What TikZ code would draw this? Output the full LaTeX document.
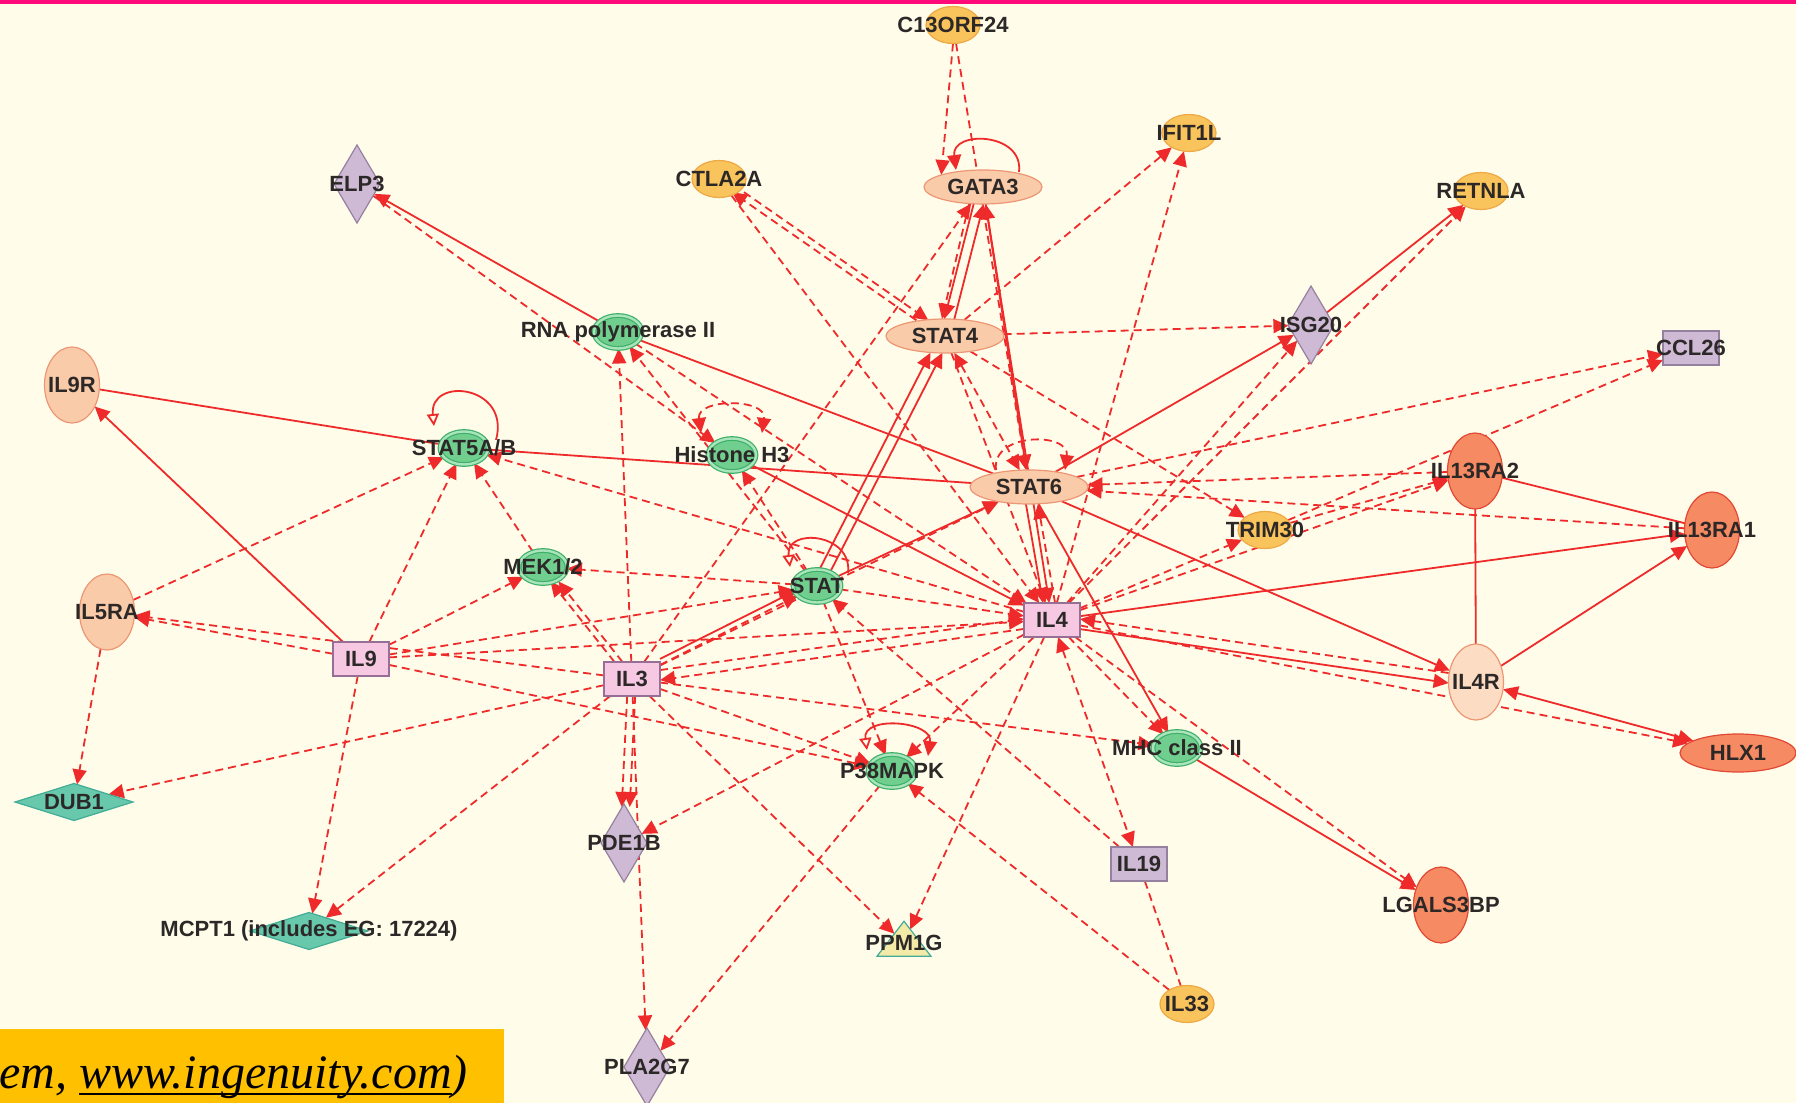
\documentclass[tikz,border=0pt]{standalone}
\usepackage{fontspec}
\setmainfont{Liberation Serif}
\setsansfont{Liberation Sans}
\usetikzlibrary{arrows.meta, shapes.geometric, backgrounds}

\definecolor{cream}{RGB}{255,253,234}
\definecolor{magbar}{RGB}{255,10,120}
\definecolor{banner}{RGB}{255,192,0}
\definecolor{lnk}{RGB}{238,42,42}
\definecolor{txtgrey}{RGB}{45,40,40}
\definecolor{pchfill}{RGB}{250,203,168}
\definecolor{pchline}{RGB}{236,150,118}
\definecolor{ltpfill}{RGB}{252,220,194}
\definecolor{ylwfill}{RGB}{250,196,92}
\definecolor{ylwline}{RGB}{238,168,70}
\definecolor{orgfill}{RGB}{246,138,98}
\definecolor{orgline}{RGB}{226,72,52}
\definecolor{grnfill}{RGB}{112,206,142}
\definecolor{grnline}{RGB}{62,176,104}
\definecolor{grnring}{RGB}{170,228,188}
\definecolor{purpfill}{RGB}{206,186,212}
\definecolor{purpline}{RGB}{150,128,160}
\definecolor{pinkfill}{RGB}{246,200,226}
\definecolor{pinkline}{RGB}{150,110,150}
\definecolor{tealfill}{RGB}{104,200,172}
\definecolor{tealline}{RGB}{66,172,150}
\definecolor{trifill}{RGB}{244,234,168}

\newsavebox\urlbox
\newcommand\urlul[1]{\sbox\urlbox{#1}\rlap{\rule[-0.14em]{\wd\urlbox}{0.045em}}\usebox\urlbox}

\begin{document}
\begin{tikzpicture}[x=0.5pt, y=-0.5pt,
    >={Triangle[length=7.5pt, width=7pt]},
    every label/.style={font=\sffamily\bfseries\fontsize{11}{13}\selectfont, text=txtgrey, inner sep=0pt},
    gene/.style={line width=0.6pt, inner sep=0pt, outer sep=0pt},
    pch/.style={gene, ellipse, draw=pchline, fill=pchfill},
    ylw/.style={gene, ellipse, draw=ylwline, fill=ylwfill, minimum width=27pt, minimum height=18.5pt},
    org/.style={gene, ellipse, draw=orgline, fill=orgfill},
    grn/.style={gene, ellipse, draw=grnline, double=grnring, double distance=1.2pt, fill=grnfill, minimum width=24pt, minimum height=16.5pt},
    dia/.style={gene, diamond, draw=purpline, fill=purpfill, minimum width=23pt, minimum height=39pt},
    flat/.style={gene, diamond, draw=tealline, fill=tealfill, minimum width=59pt, minimum height=18.5pt},
    box/.style={gene, rectangle, draw=#1line, fill=#1fill, minimum width=28pt, minimum height=17pt},
    tall/.style={minimum width=27.5pt, minimum height=38pt},
    wide/.style={minimum width=59pt, minimum height=17pt},
    link/.style={draw=lnk, line width=0.9pt},
    dsh/.style={link, dash pattern=on 4pt off 2.5pt, ->},
    sld/.style={link, ->},
]
\useasboundingbox (0,0) rectangle (1796,1103);

% cytokines and receptors (ellipses)
\node[ylw, label=center:C13ORF24] (C13ORF24) at (953,25) {};
\node[ylw, label=center:IFIT1L] (IFIT1L) at (1189,133) {};
\node[ylw, label=center:CTLA2A] (CTLA2A) at (719,179) {};
\node[ylw, label=center:RETNLA] (RETNLA) at (1481,191) {};
\node[ylw, label=center:TRIM30] (TRIM30) at (1265,530) {};
\node[ylw, label=center:IL33] (IL33) at (1187,1004) {};
\node[pch, wide, label=center:GATA3] (GATA3) at (983,187) {};
\node[pch, wide, label=center:STAT4] (STAT4) at (945,336) {};
\node[pch, wide, label=center:STAT6] (STAT6) at (1029,487) {};
\node[pch, tall, label=center:IL9R] (IL9R) at (72,385) {};
\node[pch, tall, label=center:IL5RA] (IL5RA) at (107,612) {};
\node[pch, tall, fill=ltpfill, label=center:IL4R] (IL4R) at (1476,682) {};
\node[org, tall, label=center:IL13RA2] (IL13RA2) at (1475,471) {};
\node[org, tall, label=center:IL13RA1] (IL13RA1) at (1712,530) {};
\node[org, tall, label=center:LGALS3BP] (LGALS3BP) at (1441,905) {};
\node[org, minimum width=58pt, minimum height=19pt, label=center:HLX1] (HLX1) at (1738,753) {};

% complexes and groups (green)
\node[grn, label=center:RNA polymerase II] (RNApol) at (618,332) {};
\node[grn, label=center:STAT5A/B] (STAT5AB) at (464,448) {};
\node[grn, label=center:Histone H3] (HistH3) at (732,455) {};
\node[grn, label=center:MEK1/2] (MEK12) at (543,567) {};
\node[grn, label=center:STAT] (STAT) at (817,586) {};
\node[grn, label=center:P38MAPK] (P38) at (892,771) {};
\node[grn, label=center:MHC class II] (MHC) at (1177,748) {};

% enzymes (diamonds)
\node[dia, label=center:ELP3] (ELP3) at (357,184) {};
\node[dia, label=center:ISG20] (ISG20) at (1311,325) {};
\node[dia, label=center:PDE1B] (PDE1B) at (624,843) {};
\node[dia, label=center:PLA2G7] (PLA2G7) at (647,1067) {};
\node[flat, label=center:DUB1] (DUB1) at (74,802) {};
\node[flat, label={center:{MCPT1 (includes EG: 17224)}}] (MCPT1) at (309,931) {};

% cytokines (squares) and phosphatase
\node[box=pink, label=center:IL9] (IL9) at (361,659) {};
\node[box=pink, label=center:IL3] (IL3) at (632,679) {};
\node[box=pink, label=center:IL4] (IL4) at (1052,620) {};
\node[box=purp, label=center:CCL26] (CCL26) at (1691,348) {};
\node[box=purp, label=center:IL19] (IL19) at (1139,864) {};
\node[gene, isosceles triangle, shape border rotate=90, isosceles triangle stretches, draw=tealline, fill=trifill, minimum width=27pt, minimum height=17.5pt, label=center:PPM1G] (PPM1G) at (904,943) {};

% frame and source note
\fill[magbar] (0,0) rectangle (1796,4);
\fill[banner] (0,1029) rectangle (504,1103);
\node[anchor=base west, inner sep=0pt, font=\itshape\fontsize{24}{28}\selectfont] (credit) at (-1,1088) {em, \urlul{www.ingenuity.com})};

\begin{scope}[on background layer]
\fill[cream] (0,0) rectangle (1796,1103);

% self loops
\draw[link, ->] ([shift={(36,-15)}]GATA3.center) .. controls +(5,-40) and +(-5,-40) .. ([shift={(-27,-17)}]GATA3.center);
\draw[link, dash pattern=on 4pt off 2.5pt, ->] ([shift={(-33,-17)}]STAT6.center) .. controls +(-5,-38) and +(5,-38) .. ([shift={(36,-17)}]STAT6.center);
\draw[link, -{Triangle[open, length=6pt, width=6pt]}] ([shift={(32,-8)}]STAT5AB.center) .. controls +(15,-55) and +(-5,-50) .. ([shift={(-30,-22)}]STAT5AB.center);
\draw[link, dash pattern=on 4pt off 2.5pt, <->] ([shift={(-31,-22)}]HistH3.center) .. controls +(-5,-35) and +(5,-35) .. ([shift={(30,-22)}]HistH3.center);
\draw[link, -{Triangle[open, length=6pt, width=6pt]}] ([shift={(31,-13)}]STAT.center) .. controls +(5,-40) and +(-5,-40) .. ([shift={(-27,-19)}]STAT.center);
\draw[link, {Triangle[open, length=6pt, width=6pt]}-{Triangle[length=7.5pt, width=7pt]}] ([shift={(-25,-21)}]P38.center) .. controls +(-5,-35) and +(5,-35) .. ([shift={(36,-15)}]P38.center);

% top hub: GATA3, STAT4
\draw[dsh] (C13ORF24.south) -- (GATA3.north west);
\draw[dsh] (C13ORF24) -- (STAT6);
\draw[sld, transform canvas={xshift=-2.5pt}] (GATA3) -- (STAT4);
\draw[sld, transform canvas={xshift=2.5pt}] (STAT4) -- (GATA3);
\draw[dsh] (GATA3.230) -- (STAT4.100);
\draw[sld, <->] (GATA3) -- (STAT6);
\draw[sld] (GATA3) -- (IL4);
\draw[dsh] (IL3) -- (GATA3);
\draw[dsh, transform canvas={xshift=-3pt}] (STAT4) -- (CTLA2A);
\draw[dsh, transform canvas={xshift=3pt}] (CTLA2A) -- (STAT4);
\draw[dsh] (CTLA2A) -- (IL4);
\draw[dsh] (STAT4) -- (IFIT1L);
\draw[dsh] (IL4) -- (IFIT1L);
\draw[dsh] (STAT4) -- (ISG20);
\draw[dsh] (STAT4) -- (TRIM30);
\draw[dsh] (STAT4) -- (IL4);
\draw[dsh, <->] (STAT4) -- (STAT6);
\draw[sld] (ISG20) -- (RETNLA);
\draw[dsh] (IL4) -- (RETNLA);
\draw[dsh] (IL4) -- (ISG20);
\draw[sld] (STAT6) -- (ISG20);
\draw[dsh] (STAT6) -- (CCL26);
\draw[dsh] (TRIM30) -- (CCL26);

% left side: ELP3, RNA polymerase II, STAT5A/B, MEK1/2
\draw[sld] (RNApol) -- (ELP3);
\draw[dsh] (ELP3) -- (HistH3);
\draw[link] (RNApol) -- (STAT6);
\draw[dsh] (IL3) -- (RNApol);
\draw[dsh] (STAT) -- (RNApol);
\draw[dsh] (RNApol) -- (IL4);
\draw[link] (IL9R) -- (STAT5AB);
\draw[link] (STAT5AB) -- (STAT6);
\draw[dsh] (IL5RA) -- (STAT5AB);
\draw[dsh] (IL9) -- (STAT5AB);
\draw[dsh] (MEK12) -- (STAT5AB);
\draw[dsh] (IL4) -- (STAT5AB);
\draw[sld] (HistH3) -- (IL4);
\draw[dsh] (STAT) -- (HistH3);
\draw[dsh] (STAT) -- (MEK12);
\draw[dsh] (IL9) -- (MEK12);
\draw[dsh, transform canvas={xshift=-2pt}] (IL3) -- (MEK12);
\draw[dsh, transform canvas={xshift=2pt}] (IL3) -- (MEK12);

% IL9 and IL5RA
\draw[sld] (IL9) -- (IL9R);
\draw[dsh] (IL9) -- (IL5RA);
\draw[dsh] (IL3) -- (IL5RA);
\draw[dsh] (IL9) -- (STAT);
\draw[dsh] (IL9) -- (IL4);
\draw[dsh] (IL9) -- (P38);
\draw[dsh] (IL9) -- (MCPT1);
\draw[dsh] (IL5RA) -- (DUB1);

% IL3 hub
\draw[dsh] (IL3) -- (STAT);
\draw[sld, transform canvas={yshift=3pt}] (IL3) -- (STAT);
\draw[dsh] (IL3) -- (STAT6);
\draw[dsh, transform canvas={yshift=2.5pt}] (IL3) -- (IL4);
\draw[dsh, transform canvas={yshift=-2.5pt}] (IL4) -- (IL3);
\draw[dsh] (IL3) -- (DUB1);
\draw[dsh] (IL3) -- (MCPT1);
\draw[dsh, transform canvas={xshift=-2pt}] (IL3) -- (PDE1B);
\draw[dsh, transform canvas={xshift=2pt}] (IL3) -- (PDE1B);
\draw[dsh] (IL3) -- (PLA2G7);
\draw[dsh] (IL3) -- (PPM1G);
\draw[dsh] (IL3) -- (P38);
\draw[dsh] (IL3) -- (MHC);

% STAT, STAT6 and IL4 hub
\draw[sld] (STAT) -- (STAT6);
\draw[sld, transform canvas={xshift=-3pt}] (STAT) -- (STAT4);
\draw[sld, transform canvas={xshift=3pt}] (STAT) -- (STAT4);
\draw[dsh] (STAT) -- (IL4);
\draw[dsh] (STAT) -- (P38);
\draw[dsh] (IL19) -- (STAT);
\draw[sld, transform canvas={xshift=-3pt}] (STAT6) -- (IL4);
\draw[dsh, transform canvas={xshift=3pt}] (IL4) -- (STAT6);
\draw[dsh] (IL13RA2) -- (STAT6);
\draw[dsh] (IL13RA1) -- (STAT6);
\draw[sld] (STAT6) -- (IL4R);
\draw[sld] (STAT6) -- (MHC);
\draw[sld, transform canvas={yshift=-2.5pt}] (IL4) -- (IL4R);
\draw[dsh, transform canvas={yshift=2.5pt}] (IL4R) -- (IL4);
\draw[sld] (IL4) -- (IL13RA1);
\draw[dsh] (IL4) -- (IL13RA2);
\draw[dsh] (IL4) -- (TRIM30);
\draw[dsh] (TRIM30) -- (IL13RA2);
\draw[dsh] (IL4) -- (HLX1);
\draw[dsh] (IL4) -- (MHC);
\draw[dsh] (IL4) -- (LGALS3BP);
\draw[dsh, <->] (IL4) -- (IL19);
\draw[dsh] (IL4) -- (P38);
\draw[dsh] (IL4) -- (PPM1G);
\draw[dsh] (IL4) -- (PDE1B);

% receptor cluster and lower right
\draw[link] (IL13RA2) -- (IL4R);
\draw[link] (IL13RA2) -- (IL13RA1);
\draw[sld] (IL4R) -- (IL13RA1);
\draw[sld, <->] (IL4R) -- (HLX1);
\draw[sld] (MHC) -- (LGALS3BP);
\draw[link, dash pattern=on 4pt off 2.5pt] (IL19) -- (IL33);
\draw[dsh] (IL33) -- (P38);
\draw[dsh] (P38) -- (PLA2G7);
\end{scope}

\end{tikzpicture}
\end{document}
